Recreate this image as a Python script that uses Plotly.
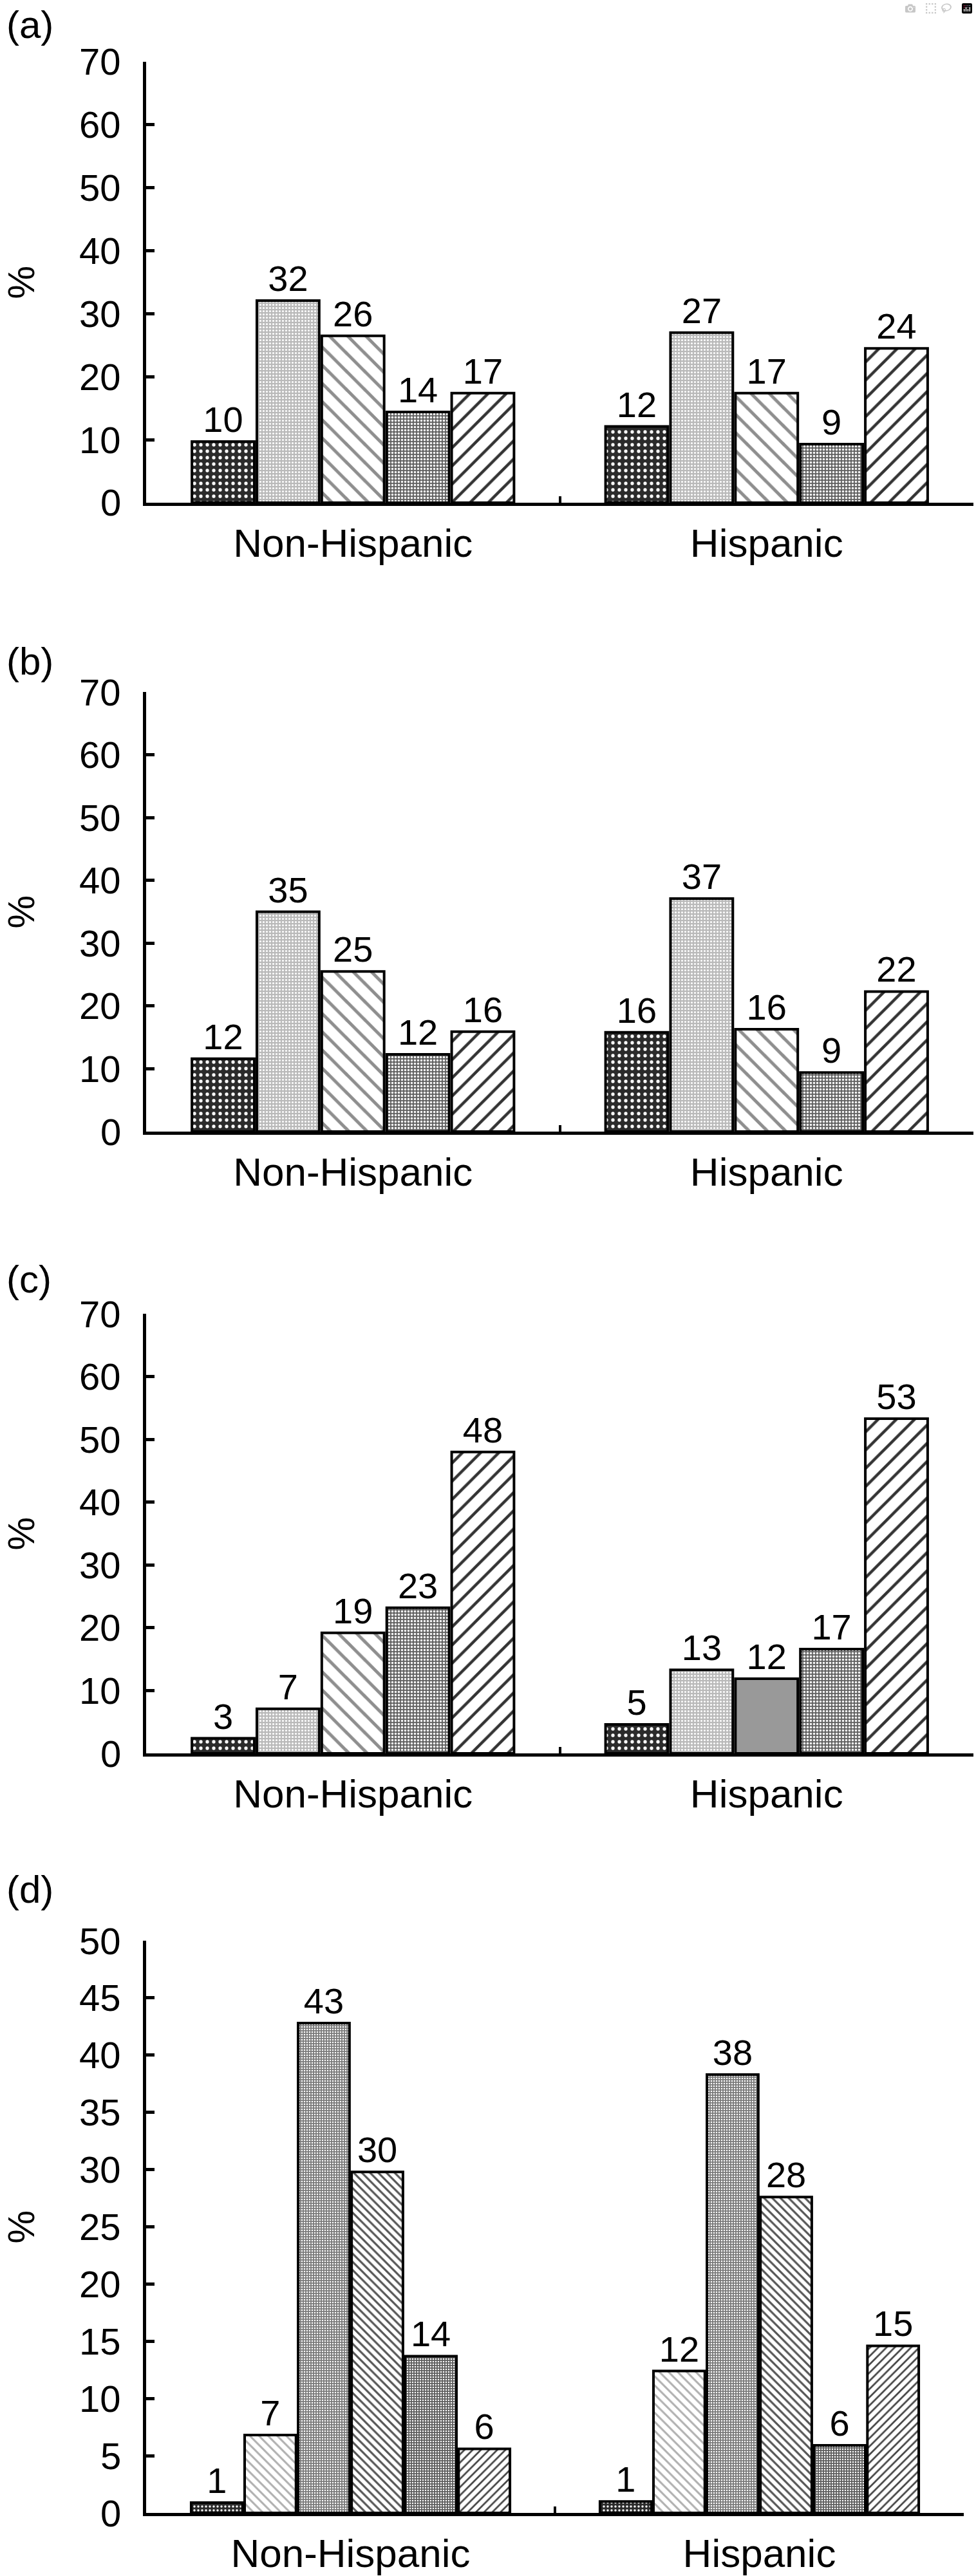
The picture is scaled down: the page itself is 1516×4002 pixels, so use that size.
import plotly.graph_objects as go

# ---------------- data ----------------
categories = ["Non-Hispanic", "Hispanic"]

a_vals = [[9.7, 12.1], [32.1, 27.0], [26.5, 17.4], [14.4, 9.3], [17.4, 24.5]]
a_labels = [["10", "12"], ["32", "27"], ["26", "17"], ["14", "9"], ["17", "24"]]
b_vals = [[11.6, 15.8], [35.0, 37.1], [25.5, 16.3], [12.3, 9.4], [15.9, 22.3]]
b_labels = [["12", "16"], ["35", "37"], ["25", "16"], ["12", "9"], ["16", "22"]]
c_vals = [[2.4, 4.6], [7.1, 13.3], [19.2, 11.9], [23.2, 16.6], [48.0, 53.3]]
c_labels = [["3", "5"], ["7", "13"], ["19", "12"], ["23", "17"], ["48", "53"]]
d_vals = [[0.9, 1.0], [6.8, 12.4], [42.8, 38.3], [29.8, 27.6], [13.7, 5.9], [5.6, 14.6]]
d_labels = [["1", "1"], ["7", "12"], ["43", "38"], ["30", "28"], ["14", "6"], ["6", "15"]]

panel_names = ["(a)", "(b)", "(c)", "(d)"]
y_ticks_abc = [0, 10, 20, 30, 40, 50, 60, 70]
y_ticks_d = [0, 5, 10, 15, 20, 25, 30, 35, 40, 45, 50]
y_ticks = [y_ticks_abc, y_ticks_abc, y_ticks_abc, y_ticks_d]
y_title = "%"

W, H = 1516, 4002
FONT = "Liberation Sans, Arial, Helvetica, sans-serif"

style5 = [
    dict(shape=".", bg="#2b2b2b", fg="#ffffff", size=10, sol=0.22),
    dict(shape=".", bg="#bababa", fg="#ffffff", size=5, sol=0.3),
    dict(shape="\\", bg="#ffffff", fg="#8e8e8e", size=20, sol=0.25),
    dict(shape=".", bg="#666666", fg="#ffffff", size=5, sol=0.35),
    dict(shape="/", bg="#ffffff", fg="#333333", size=20, sol=0.22),
]
style6 = [
    dict(shape=".", bg="#2b2b2b", fg="#ffffff", size=6, sol=0.25),
    dict(shape="\\", bg="#ffffff", fg="#b0b0b0", size=10, sol=0.3),
    dict(shape=".", bg="#7a7a7a", fg="#ffffff", size=4, sol=0.3),
    dict(shape="\\", bg="#ffffff", fg="#555555", size=9, sol=0.35),
    dict(shape=".", bg="#5e5e5e", fg="#ffffff", size=4, sol=0.3),
    dict(shape="/", bg="#ffffff", fg="#444444", size=9, sol=0.3),
]

# plot areas in pixels: (left, right, top, bottom)
areas = [
    (227, 1512, 96, 781),
    (227, 1512, 1075, 1758),
    (227, 1512, 2041, 2724),
    (227, 1497, 3015, 3904),
]
label_y = [38, 1027, 1988, 2935]
TICKLABEL_RIGHT = 190   # px, right edge of y tick labels
YTITLE_X = 32           # px, centre of the "%" title

panels = [(a_vals, a_labels), (b_vals, b_labels), (c_vals, c_labels), (d_vals, d_labels)]

fig = go.Figure()
layout = {}
annotations = []

for p, (vals, labels) in enumerate(panels):
    xa = "x" if p == 0 else f"x{p+1}"
    ya = "y" if p == 0 else f"y{p+1}"
    styles = style6 if len(vals) == 6 else style5
    for s, (v, lab) in enumerate(zip(vals, labels)):
        st = styles[s]
        if p == 2 and s == 2:
            # panel (c): the Hispanic bar of this series is plain grey
            mcolor = [st["fg"], "#999999"]
            shape = [st["shape"], ""]
        else:
            mcolor = st["fg"]
            shape = st["shape"]
        fig.add_trace(go.Bar(
            x=categories, y=v, xaxis=xa, yaxis=ya,
            text=lab, textposition="outside", cliponaxis=False,
            textfont=dict(family=FONT, size=56, color="black"),
            marker=dict(
                color=mcolor,
                line=dict(color="black", width=4),
                pattern=dict(shape=shape, bgcolor=st["bg"], fgcolor=st["fg"],
                             size=st["size"], solidity=st["sol"], fillmode="replace"),
            ),
            showlegend=False, hoverinfo="skip",
        ))
    l, r, t, b = areas[p]
    ticks = y_ticks[p]
    layout["xaxis" if p == 0 else f"xaxis{p+1}"] = dict(
        domain=[l / W, r / W], anchor=ya,
        type="category", range=[-0.5, 1.5],
        showline=True, linecolor="black", linewidth=5,
        ticks="inside", tickson="boundaries", ticklen=10, tickwidth=4, tickcolor="black",
        tickfont=dict(family=FONT, size=62, color="black"),
        showgrid=False, zeroline=False, fixedrange=True,
        ticklabelstandoff=5, automargin=False,
    )
    layout["yaxis" if p == 0 else f"yaxis{p+1}"] = dict(
        domain=[1 - b / H, 1 - t / H], anchor=xa,
        range=[ticks[0], ticks[-1]], tickvals=ticks,
        showline=True, linecolor="black", linewidth=5,
        ticks="inside", ticklen=13, tickwidth=5, tickcolor="black",
        showticklabels=False,
        showgrid=False, zeroline=False, fixedrange=True, automargin=False,
    )
    # y tick labels placed on the axis scale
    for tv in ticks:
        annotations.append(dict(
            text=str(tv), x=TICKLABEL_RIGHT / W, xref="paper", y=tv, yref=ya,
            xanchor="right", yanchor="middle", showarrow=False,
            font=dict(family=FONT, size=58, color="black"),
        ))
    # y axis title
    annotations.append(dict(
        text=y_title, x=YTITLE_X / W, xref="paper",
        y=(ticks[0] + ticks[-1]) / 2, yref=ya,
        xanchor="center", yanchor="middle", textangle=-90, showarrow=False,
        font=dict(family=FONT, size=58, color="black"),
    ))
    # panel letter
    annotations.append(dict(
        text=panel_names[p], x=8 / W, y=1 - label_y[p] / H, xref="paper", yref="paper",
        xanchor="left", yanchor="middle", showarrow=False,
        font=dict(family=FONT, size=60, color="black"),
    ))

fig.update_layout(
    width=W, height=H,
    margin=dict(l=0, r=0, t=0, b=0, autoexpand=False),
    paper_bgcolor="white", plot_bgcolor="white",
    barmode="group", bargap=0.215, bargroupgap=0.04,
    annotations=annotations,
    **layout,
)

fig.write_html("out.html", post_script="document.body.style.margin='0';")
